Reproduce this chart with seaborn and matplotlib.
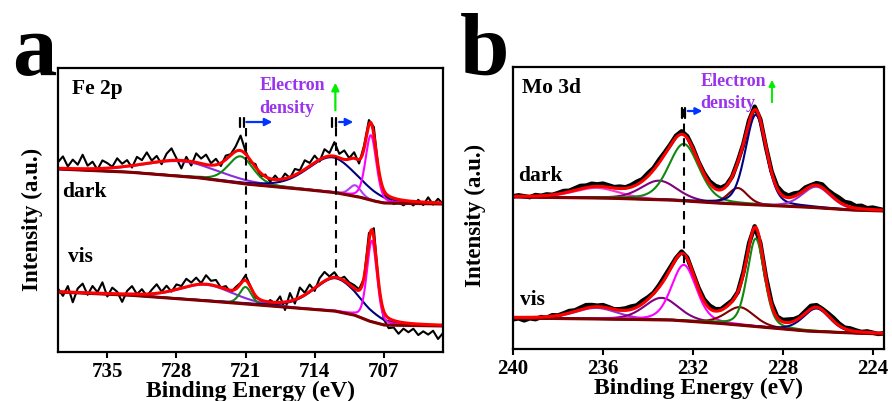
import numpy as np
import pandas as pd
import matplotlib
matplotlib.use("Agg")
import matplotlib.pyplot as plt
import seaborn as sns

# ---------------- data ----------------
# Fe 2p raw-data energy grid (eV) and residuals (raw - fit)
fe_energy = np.arange(740, 700.99, -0.5)
fe_dark_resid = [6, 12, 2, 9, 4, 14, 3, 7, -1, 8,
                 5, 1, 9, 3, 6, -2, 8, 4, 11, 2,
                 6, -3, 7, 12, 2, -8, 4, -4, 9, 5,
                 10, 2, 6, -3, 4, 1, 5, 15, 3, -2,
                 3, -4, 2, -3, 4, -2, 5, -1, 6, 2,
                 9, 3, 7, -2, 8, 3, 14, 4, 9, 1,
                 6, -4, 3, 5, 8, -3, -5, -2, -6, -3,
                 -5, -1, -4, 2, -3, 5, -2, 4, -1]
fe_vis_resid = [3, -4, 6, -10, 4, 9, -2, 7, 1, 11,
                -3, 6, 2, -8, 3, 8, 0, 5, -2, 4,
                9, 1, 6, -1, 5, 2, 8, 3, 7, 1,
                9, 4, 6, 0, 3, -2, 2, 1, 5, 1,
                -2, 0, -3, 2, -1, 6, -8, 8, -4, 10,
                2, 7, -3, 6, 9, 2, 5, -1, 4, 2,
                3, 1, -1, 8, 10, -3, -8, -10, -7, -12,
                -6, -9, -5, -11, -7, -10, -6, -14, -8]

# Fe 2p Shirley-type background knots
fe_bg_dark_E = [740, 733, 726, 721, 716, 712, 709.5, 708, 707, 701]
fe_bg_dark_I = [183, 180, 174.5, 168, 163.5, 159.5, 155, 151, 149, 148]
fe_bg_vis_E = [740, 733, 726, 721, 716, 712, 710, 708.5, 707, 701]
fe_bg_vis_I = [60, 57, 52, 48, 44, 41, 37, 31, 27, 26]

# Fe 2p fitted components
fe_dark_centers = [727.5, 721.5, 712.2, 709.9, 708.3]
fe_dark_heights = [15, 27, 35, 11, 65]
fe_dark_fwhm = [9.0, 3.0, 6.0, 1.4, 1.3]
fe_dark_colors = ["#8a2be2", "#118811", "#000080", "#b040f0", "#ff00ff"]
fe_vis_centers = [725.0, 721.0, 711.8, 708.2]
fe_vis_heights = [16, 17, 33, 81]
fe_vis_fwhm = [6.5, 1.4, 5.5, 1.2]
fe_vis_colors = ["#8a2be2", "#118811", "#000080", "#ff00ff"]
fe_ticks = [735, 728, 721, 714, 707]

# Mo 3d
mo_energy = np.arange(240, 223.49, -0.25)
mo_dark_resid = [0, 1, 0, -1, 1, 0, 1, 0, 1, 2,
                 1, 2, 3, 2, 3, 2, 3, 2, 1, 2,
                 1, 2, 3, 2, 3, 2, 3, 2, 1, 2,
                 3, 2, 1, 0, 1, 2, 3, 2, 1, 0,
                 1, 0, 2, 3, 1, 0, 1, 2, 3, 2,
                 3, 1, 2, 1, 2, 3, 2, 3, 4, 3,
                 4, 2, 3, 1, 2, 1, 0]
mo_vis_resid = [-2, -1, -3, -1, -2, 0, -1, 1, 0, 1,
                2, 1, 2, 3, 2, 1, 2, 1, 0, 1,
                2, 3, 2, 3, 2, 1, 2, 3, 2, 1,
                2, 1, 0, 1, 2, 3, 2, 1, 2, 1,
                0, 2, 3, 1, 0, 1, 2, 1, 2, 3,
                2, 1, 2, 3, 2, 1, 2, 3, 2, 1,
                2, 1, 0, 1, 0, -1, 0]
mo_bg_dark_E = [240, 236, 233, 231, 229, 227, 225, 223.5]
mo_bg_dark_I = [152, 151, 149, 146, 144, 142, 139, 138]
mo_bg_vis_E = [240, 236, 233, 231, 229, 227, 225, 223.5]
mo_bg_vis_I = [31, 30, 29, 26, 22, 18, 16, 15]

mo_dark_centers = [236.3, 233.5, 232.4, 230.0, 229.2, 226.5]
mo_dark_heights = [10, 19, 57, 16, 90, 21]
mo_dark_fwhm = [2.4, 1.9, 1.6, 1.0, 1.1, 1.5]
mo_dark_colors = ["#ff33cc", "#800080", "#118811", "#800000", "#000080", "#9932cc"]
mo_vis_centers = [236.3, 233.4, 232.4, 229.9, 229.2, 226.5]
mo_vis_heights = [11, 22, 56, 18, 88, 23]
mo_vis_fwhm = [2.2, 1.8, 1.3, 1.5, 0.9, 1.4]
mo_vis_colors = ["#9932cc", "#800080", "#ff00ff", "#800000", "#118811", "#000080"]
mo_ticks = [240, 236, 232, 228, 224]

# ---------------- style ----------------
sns.set_theme(style="white")
plt.rcParams["font.family"] = ["Liberation Serif", "DejaVu Serif"]
plt.rcParams["font.weight"] = "bold"
plt.rcParams["axes.labelweight"] = "bold"
plt.rcParams["text.color"] = "black"
plt.rcParams["axes.labelcolor"] = "black"
plt.rcParams["xtick.color"] = "black"
plt.rcParams["ytick.color"] = "black"

RED = "#ff0000"
BG = "#800000"
VIOLET_TXT = "#9933ee"


def pv(x, c, h, w, eta=0.3):
    d = (x - c) / w
    return h * ((1 - eta) * np.exp(-4 * np.log(2) * d ** 2) + eta / (1 + 4 * d ** 2))


def draw_spectrum(ax, e_lo, e_hi, e_raw, resid, bgE, bgI, centers, heights,
                  fwhm, colors, raw_lw, comp_lw=1.5):
    ef = np.linspace(e_hi, e_lo, 1500)
    bgE_r = np.array(bgE[::-1], float)
    bgI_r = np.array(bgI[::-1], float)
    bg_f = np.interp(ef, bgE_r, bgI_r)
    bg_r = np.interp(e_raw, bgE_r, bgI_r)
    env_f = bg_f.copy()
    env_r = bg_r.copy()
    comps = []
    for c, h, w in zip(centers, heights, fwhm):
        p = pv(ef, c, h, w)
        env_f += p
        env_r += pv(e_raw, c, h, w)
        comps.append(bg_f + p)
    raw = env_r + np.array(resid, float)
    sns.lineplot(x=e_raw, y=raw, ax=ax, color="black", lw=raw_lw,
                 estimator=None, sort=False)
    for comp, col in zip(comps, colors):
        sns.lineplot(x=ef, y=comp, ax=ax, color=col, lw=comp_lw,
                     estimator=None, sort=False)
    sns.lineplot(x=ef, y=bg_f, ax=ax, color=BG, lw=2.2, estimator=None, sort=False)
    sns.lineplot(x=ef, y=env_f, ax=ax, color=RED, lw=2.2, estimator=None, sort=False)


fig = plt.figure(figsize=(8.92, 4.01), dpi=100)
fig.patch.set_facecolor("white")
axA = fig.add_axes([0.0650, 0.1222, 0.4316, 0.7082])
axB = fig.add_axes([0.5751, 0.1297, 0.4159, 0.7032])

# ---- panel a ----
draw_spectrum(axA, 701, 740, fe_energy, fe_dark_resid, fe_bg_dark_E, fe_bg_dark_I,
              fe_dark_centers, fe_dark_heights, fe_dark_fwhm, fe_dark_colors, 1.5)
draw_spectrum(axA, 701, 740, fe_energy, fe_vis_resid, fe_bg_vis_E, fe_bg_vis_I,
              fe_vis_centers, fe_vis_heights, fe_vis_fwhm, fe_vis_colors, 1.5)
axA.set_xlim(740, 701)
axA.set_ylim(0, 284)
axA.set_xticks(fe_ticks)

# dashed guide lines
for e in (721.0, 711.8):
    axA.plot([e, e], [224, 76], color="black", lw=1.5, ls=(0, (4, 3)))
# small bars + blue arrows
for e in (721.6, 721.2, 712.2, 711.8):
    axA.plot([e, e], [225, 234], color="black", lw=1.6)
axA.annotate("", xy=(718.0, 230), xytext=(721.2, 230),
             arrowprops=dict(arrowstyle="-|>", color="#0033ff", lw=1.6, mutation_scale=11))
axA.annotate("", xy=(709.8, 230), xytext=(711.8, 230),
             arrowprops=dict(arrowstyle="-|>", color="#0033ff", lw=1.6, mutation_scale=11))
axA.annotate("", xy=(711.9, 272), xytext=(711.9, 239),
             arrowprops=dict(arrowstyle="-|>", color="#00ee00", lw=1.6, mutation_scale=11))
axA.text(719.6, 267, "Electron", color=VIOLET_TXT, fontsize=13, ha="left", va="center")
axA.text(719.6, 244, "density", color=VIOLET_TXT, fontsize=13, ha="left", va="center")
axA.text(0.036, 0.926, "Fe 2p", transform=axA.transAxes, fontsize=15.5, va="center")
axA.text(0.012, 0.565, "dark", transform=axA.transAxes, fontsize=15.5, va="center")
axA.text(0.026, 0.333, "vis", transform=axA.transAxes, fontsize=15.5, va="center")

# ---- panel b ----
draw_spectrum(axB, 223.5, 240, mo_energy, mo_dark_resid, mo_bg_dark_E, mo_bg_dark_I,
              mo_dark_centers, mo_dark_heights, mo_dark_fwhm, mo_dark_colors, 3.2)
draw_spectrum(axB, 223.5, 240, mo_energy, mo_vis_resid, mo_bg_vis_E, mo_bg_vis_I,
              mo_vis_centers, mo_vis_heights, mo_vis_fwhm, mo_vis_colors, 3.2)
axB.set_xlim(240, 223.5)
axB.set_ylim(0, 282)
axB.set_xticks(mo_ticks)
axB.plot([232.4, 232.4], [240, 84], color="black", lw=1.5, ls=(0, (4, 3)))
for e in (232.47, 232.33):
    axB.plot([e, e], [231, 241], color="black", lw=1.6)
axB.annotate("", xy=(231.45, 238), xytext=(232.35, 238),
             arrowprops=dict(arrowstyle="-|>", color="#0033ff", lw=1.6, mutation_scale=10))
axB.annotate("", xy=(228.48, 272), xytext=(228.48, 244),
             arrowprops=dict(arrowstyle="-|>", color="#00ee00", lw=1.4, mutation_scale=9))
axB.text(231.65, 268, "Electron", color=VIOLET_TXT, fontsize=13, ha="left", va="center")
axB.text(231.65, 246, "density", color=VIOLET_TXT, fontsize=13, ha="left", va="center")
axB.text(0.024, 0.926, "Mo 3d", transform=axB.transAxes, fontsize=15.5, va="center")
axB.text(0.013, 0.615, "dark", transform=axB.transAxes, fontsize=15.5, va="center")
axB.text(0.019, 0.174, "vis", transform=axB.transAxes, fontsize=15.5, va="center")

for ax, lx, ly in ((axA, -0.040, 0.468), (axB, -0.073, 0.475)):
    ax.set_yticks([])
    ax.set_xlabel("Binding Energy (eV)", fontsize=17, fontweight="bold",
                  color="black", labelpad=-1)
    ax.set_ylabel("Intensity (a.u.)", fontsize=16.5, fontweight="bold", color="black")
    ax.yaxis.set_label_coords(lx, ly)
    ax.tick_params(axis="x", direction="out", length=4, width=1.5, pad=3,
                   labelsize=15, bottom=True, colors="black")
    for lab in ax.get_xticklabels():
        lab.set_fontweight("bold")
    for sp in ax.spines.values():
        sp.set_color("black")
        sp.set_linewidth(1.6)
    ax.set_facecolor("white")

fig.text(12 / 892, 0.813, "a", fontsize=64, fontweight="bold", va="baseline",
         ha="left", color="black")
fig.text(460 / 892, 0.813, "b", fontsize=64, fontweight="bold", va="baseline",
         ha="left", color="black")

fig.savefig("out.png", dpi=100, facecolor="white")
